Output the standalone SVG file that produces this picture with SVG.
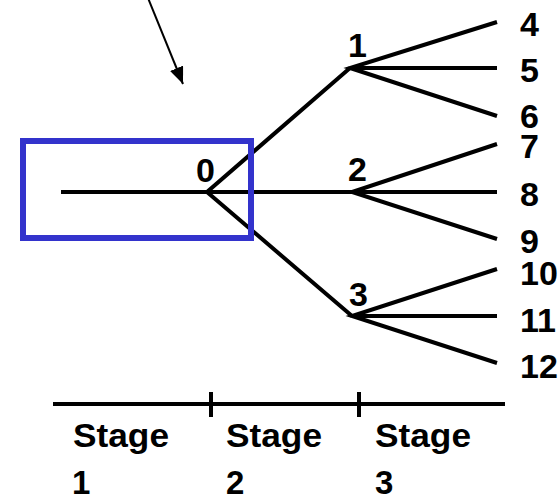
<svg xmlns="http://www.w3.org/2000/svg" width="558" height="494" viewBox="0 0 558 494">
<style>
.ln{stroke:#000;stroke-width:4;fill:none;stroke-linecap:butt}
.lb{font-family:"Liberation Sans",Arial,sans-serif;font-weight:bold;font-size:34px;fill:#000}
.st{font-family:"Liberation Sans",Arial,sans-serif;font-weight:bold;font-size:33px;fill:#000}
</style>
<defs>
<marker id="ah" viewBox="0 0 10 10" refX="10" refY="5" markerWidth="17" markerHeight="14" markerUnits="userSpaceOnUse" orient="auto" preserveAspectRatio="none">
<path d="M0,0 L10,5 L0,10 Z" fill="#000"/>
</marker>
</defs>
<rect width="558" height="494" fill="#fff"/>
<g id="connectors">
<line x1="148" y1="-2" x2="183" y2="84" stroke="#000" stroke-width="2" marker-end="url(#ah)"/>
<line class="ln" x1="61" y1="192" x2="207" y2="192"/>
<polyline class="ln" points="350,68 207,192 352,316"/>
<line class="ln" x1="207" y1="192" x2="352" y2="192"/>
<path class="ln" d="M497,22 L350,68 L497,116 M350,68 H497"/>
<path class="ln" d="M497,144 L352,192 L497,239 M352,192 H497"/>
<path class="ln" d="M497,269 L352,316 L497,363 M352,316 H497"/>
</g>
<g id="highlight">
<rect x="23" y="141" width="228" height="97" fill="none" stroke="#3333cc" stroke-width="6"/>
</g>
<g id="node0"><text class="lb" x="196" y="182">0</text></g>
<g id="node1"><text class="lb" x="348" y="57">1</text></g>
<g id="node2"><text class="lb" x="348" y="181">2</text></g>
<g id="node3"><text class="lb" x="349" y="306">3</text></g>
<g id="node4"><text class="lb" x="520" y="36">4</text></g>
<g id="node5"><text class="lb" x="520" y="82">5</text></g>
<g id="node6"><text class="lb" x="520" y="128">6</text></g>
<g id="node7"><text class="lb" x="520" y="158">7</text></g>
<g id="node8"><text class="lb" x="520" y="206">8</text></g>
<g id="node9"><text class="lb" x="520" y="253">9</text></g>
<g id="node10"><text class="lb" x="520" y="285">10</text></g>
<g id="node11"><text class="lb" x="520" y="332">11</text></g>
<g id="node12"><text class="lb" x="520" y="378">12</text></g>
<g id="axis">
<line class="ln" x1="53" y1="404" x2="505" y2="404"/>
<line class="ln" x1="211" y1="392" x2="211" y2="417"/>
<line class="ln" x1="359" y1="392" x2="359" y2="417"/>
<text class="st" x="73" y="447" textLength="96" lengthAdjust="spacingAndGlyphs">Stage</text>
<text class="st" x="72" y="494">1</text>
<text class="st" x="226" y="447" textLength="96" lengthAdjust="spacingAndGlyphs">Stage</text>
<text class="st" x="226" y="494">2</text>
<text class="st" x="375" y="447" textLength="96" lengthAdjust="spacingAndGlyphs">Stage</text>
<text class="st" x="375" y="494">3</text>
</g>
</svg>
